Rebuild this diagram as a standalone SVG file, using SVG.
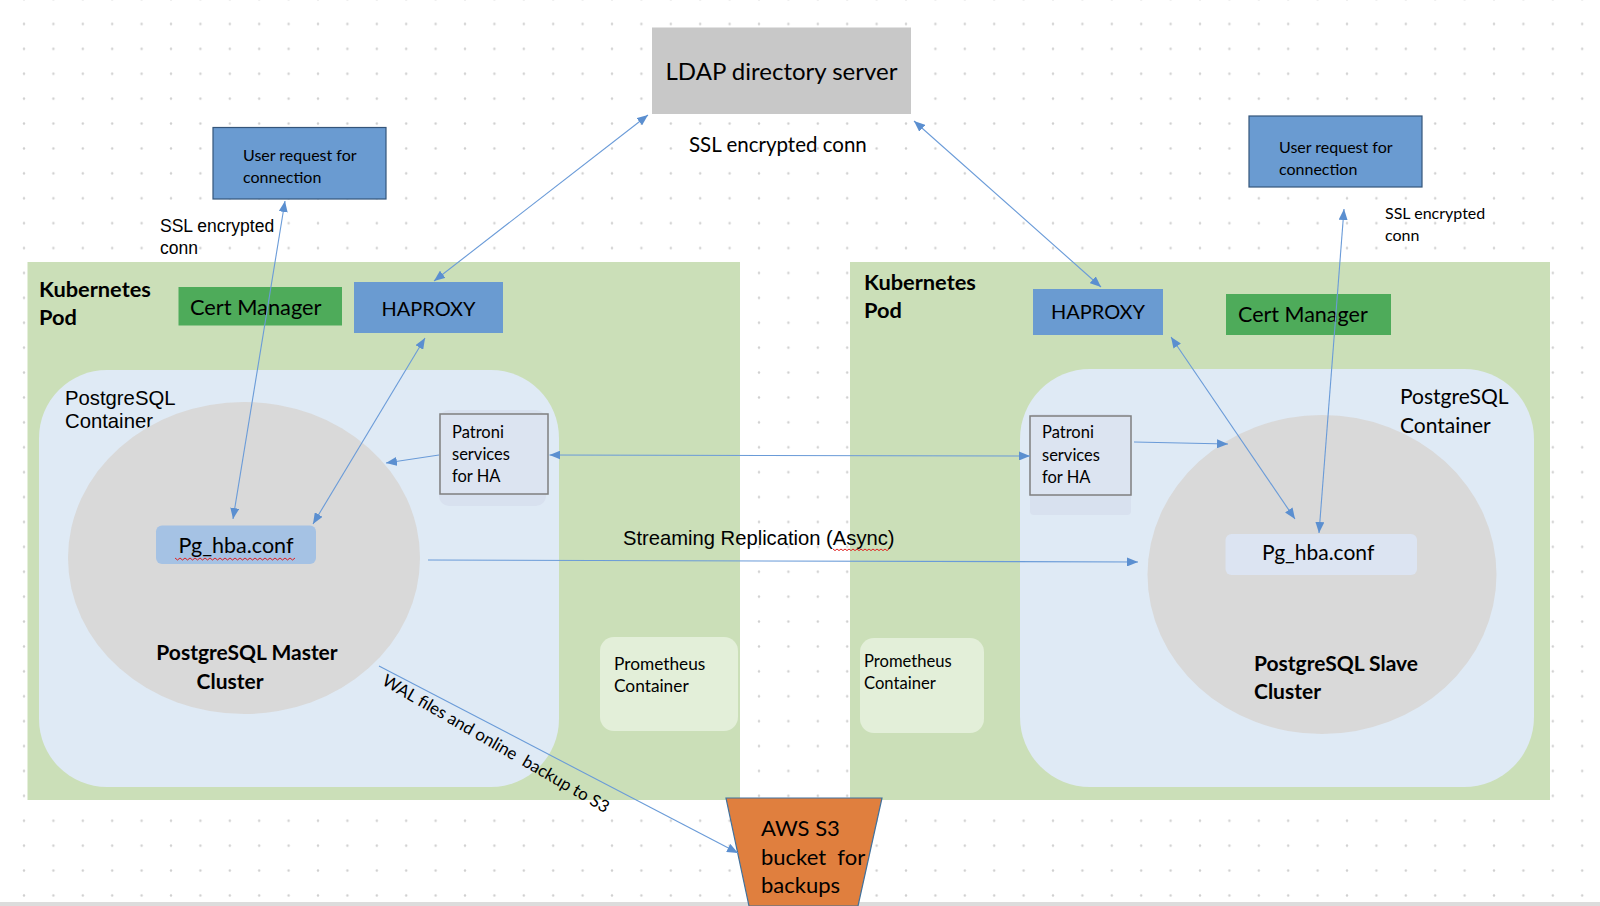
<svg xmlns="http://www.w3.org/2000/svg" width="1600" height="906" viewBox="0 0 1600 906">
<defs>
<pattern id="dots" patternUnits="userSpaceOnUse" x="9.3" y="11.5" width="29.4" height="24.9">
<circle cx="14.7" cy="12.45" r="1.2" fill="#cfcfcf"/>
</pattern>
<marker id="arr" viewBox="0 0 10 10" refX="10" refY="5" markerWidth="11" markerHeight="9" markerUnits="userSpaceOnUse" orient="auto-start-reverse" preserveAspectRatio="none">
<path d="M0,0 L10,5 L0,10 z" fill="#5b8fd0"/>
</marker>
</defs>
<style>
.cal{font-family:Lato,"Open Sans","Noto Sans",sans-serif;fill:#000}
.ari{font-family:"Liberation Sans",Arial,sans-serif;fill:#000}
.b{font-weight:bold}
.pod{fill:#cbdfb8}
.cont{fill:#dfeaf5}
.ell{fill:#d9d9d9}
.blue{fill:#6a9bd1}
.green{fill:#4eab5a}
.pat{fill:#dce4f1;stroke:#7f7f7f;stroke-width:1.5}
.patsh{fill:#d8e1ef}
.prom{fill:#e3efd9}
.ln{stroke:#6a9bd8;stroke-width:1.1;fill:none}
.sq{stroke:#e02020;stroke-width:1;fill:none}
</style>
<rect x="0" y="0" width="1600" height="906" fill="#ffffff"/>
<rect x="0" y="0" width="1600" height="902" fill="url(#dots)"/>
<rect x="0" y="902" width="1600" height="4" fill="#dcdcdc"/>

<g id="ldap">
<rect x="652" y="27.5" width="259" height="86.5" fill="#c8c8c8"/>
<text class="cal" x="781.5" y="80" font-size="24" text-anchor="middle">LDAP directory server</text>
</g>
<g id="ldap-label">
<text class="cal" x="689" y="152" font-size="20.5">SSL encrypted conn</text>
</g>

<g id="user-left">
<rect x="213" y="127.5" width="173" height="71.5" class="blue" stroke="#34557a" stroke-width="1.2"/>
<text class="cal" x="243" y="161" font-size="16">User request for</text>
<text class="cal" x="243" y="183" font-size="16">connection</text>
</g>
<g id="ssl-left">
<text class="ari" x="160" y="232" font-size="17.5">SSL encrypted</text>
<text class="ari" x="160" y="254" font-size="17.5">conn</text>
</g>

<g id="user-right">
<rect x="1249" y="116" width="173" height="71" class="blue" stroke="#34557a" stroke-width="1.2"/>
<text class="cal" x="1279" y="153" font-size="16">User request for</text>
<text class="cal" x="1279" y="175" font-size="16">connection</text>
</g>
<g id="ssl-right">
<text class="cal" x="1385" y="219" font-size="16">SSL encrypted</text>
<text class="cal" x="1385" y="241" font-size="16">conn</text>
</g>

<g id="pod-left">
<rect x="27.5" y="262" width="712.5" height="538" class="pod"/>
<text class="cal b" x="39" y="297" font-size="21.8">Kubernetes</text>
<text class="cal b" x="39" y="325" font-size="21.8">Pod</text>
</g>
<g id="pod-right">
<rect x="850" y="262" width="700" height="538" class="pod"/>
<text class="cal b" x="864" y="290" font-size="21.8">Kubernetes</text>
<text class="cal b" x="864" y="318" font-size="21.8">Pod</text>
</g>

<g id="s3">
<path d="M726,798 L882,798 L858,906 L749,906 z" fill="#e07f3e" stroke="#41719c" stroke-width="1.2"/>
<text class="cal" x="761" y="836" font-size="22">AWS S3</text>
<text class="cal" x="761" y="865" font-size="22" xml:space="preserve">bucket  for</text>
<text class="cal" x="761" y="893" font-size="22">backups</text>
</g>

<g id="cert-left">
<rect x="178.5" y="287" width="163.5" height="38.5" class="green"/>
<text class="cal" x="190" y="315" font-size="21.8">Cert Manager</text>
</g>
<g id="haproxy-left">
<rect x="354" y="282" width="149" height="51" class="blue"/>
<text class="cal" x="428.5" y="316" font-size="20" text-anchor="middle">HAPROXY</text>
</g>

<g id="container-left">
<rect x="39" y="370" width="520" height="417" rx="68" ry="68" class="cont"/>
<text class="ari" x="65" y="405" font-size="20.3">PostgreSQL</text>
<text class="ari" x="65" y="428" font-size="20.3">Container</text>
</g>
<g id="master">
<ellipse cx="244" cy="558" rx="176" ry="156" class="ell"/>
<text class="cal b" x="247" y="660" font-size="21" text-anchor="middle">PostgreSQL Master</text>
<text class="cal b" x="230" y="689" font-size="21" text-anchor="middle">Cluster</text>
</g>
<g id="pghba-left">
<rect x="156" y="525.5" width="160" height="38.5" rx="6" fill="#a5c2e4"/>
<text class="cal" x="236" y="553" font-size="21.5" text-anchor="middle">Pg_hba.conf</text>
<path class="sq" d="M175,558 l2.5,2 l2.5,-2 l2.5,2 l2.5,-2 l2.5,2 l2.5,-2 l2.5,2 l2.5,-2 l2.5,2 l2.5,-2 l2.5,2 l2.5,-2 l2.5,2 l2.5,-2 l2.5,2 l2.5,-2 l2.5,2 l2.5,-2 l2.5,2 l2.5,-2 l2.5,2 l2.5,-2 l2.5,2 l2.5,-2 l2.5,2 l2.5,-2 l2.5,2 l2.5,-2 l2.5,2 l2.5,-2 l2.5,2 l2.5,-2 l2.5,2 l2.5,-2 l2.5,2 l2.5,-2 l2.5,2 l2.5,-2 l2.5,2 l2.5,-2 l2.5,2 l2.5,-2 l2.5,2 l2.5,-2 l2.5,2 l2.5,-2 l2.5,2 l2.5,-2"/>
</g>
<g id="patroni-left">
<rect x="439" y="410" width="107" height="96" rx="10" class="patsh"/>
<rect x="440" y="414" width="108" height="80" class="pat"/>
<text class="cal" x="452" y="438" font-size="16.5">Patroni</text>
<text class="cal" x="452" y="460" font-size="16.5">services</text>
<text class="cal" x="452" y="482" font-size="16.5">for HA</text>
</g>
<g id="prometheus-left">
<rect x="600" y="637" width="138" height="94" rx="14" class="prom"/>
<text class="cal" x="614" y="670" font-size="17.3">Prometheus</text>
<text class="cal" x="614" y="692" font-size="17.3">Container</text>
</g>

<g id="haproxy-right">
<rect x="1033" y="289" width="130" height="46" class="blue"/>
<text class="cal" x="1098" y="319" font-size="20" text-anchor="middle">HAPROXY</text>
</g>
<g id="cert-right">
<rect x="1226" y="294" width="165" height="41" class="green"/>
<text class="cal" x="1238" y="322" font-size="21.5">Cert Manager</text>
</g>
<g id="container-right">
<rect x="1020" y="369" width="514" height="418" rx="70" ry="70" class="cont"/>
<text class="cal" x="1400" y="404" font-size="21">PostgreSQL</text>
<text class="cal" x="1400" y="433" font-size="21">Container</text>
</g>
<g id="slave">
<ellipse cx="1322" cy="574.5" rx="174.5" ry="159.5" class="ell"/>
<text class="cal b" x="1254" y="671" font-size="21">PostgreSQL Slave</text>
<text class="cal b" x="1254" y="699" font-size="21">Cluster</text>
</g>
<g id="pghba-right">
<rect x="1225.5" y="534" width="191.5" height="41" rx="6" fill="#dce4f2"/>
<text class="cal" x="1262" y="560" font-size="21">Pg_hba.conf</text>
</g>
<g id="patroni-right">
<rect x="1030" y="414" width="101" height="101" rx="4" class="patsh"/>
<rect x="1030" y="416" width="101" height="79" class="pat"/>
<text class="cal" x="1042" y="438" font-size="16.5">Patroni</text>
<text class="cal" x="1042" y="461" font-size="16.5">services</text>
<text class="cal" x="1042" y="483" font-size="16.5">for HA</text>
</g>
<g id="prometheus-right">
<rect x="860" y="638" width="124" height="95" rx="14" class="prom"/>
<text class="cal" x="864" y="667" font-size="16.6">Prometheus</text>
<text class="cal" x="864" y="689" font-size="16.6">Container</text>
</g>

<g id="connectors">
<line class="ln" x1="285" y1="201" x2="233" y2="519" marker-start="url(#arr)" marker-end="url(#arr)"/>
<line class="ln" x1="434" y1="281" x2="648" y2="115" marker-start="url(#arr)" marker-end="url(#arr)"/>
<line class="ln" x1="425" y1="338" x2="313" y2="524" marker-start="url(#arr)" marker-end="url(#arr)"/>
<line class="ln" x1="439" y1="455" x2="386" y2="463" marker-end="url(#arr)"/>
<line class="ln" x1="549.5" y1="455" x2="1030" y2="456" marker-start="url(#arr)" marker-end="url(#arr)"/>
<line class="ln" x1="428" y1="560" x2="1138" y2="562" marker-end="url(#arr)"/>
<line class="ln" x1="379" y1="666" x2="738" y2="853" marker-end="url(#arr)"/>
<line class="ln" x1="1134" y1="442" x2="1228" y2="444" marker-end="url(#arr)"/>
<line class="ln" x1="914" y1="121" x2="1101" y2="287" marker-start="url(#arr)" marker-end="url(#arr)"/>
<line class="ln" x1="1171" y1="337" x2="1295" y2="519" marker-start="url(#arr)" marker-end="url(#arr)"/>
<line class="ln" x1="1344" y1="209" x2="1319" y2="533" marker-start="url(#arr)" marker-end="url(#arr)"/>
</g>
<g id="connector-labels">
<text class="ari" x="623" y="545" font-size="20.2">Streaming Replication (Async)</text>
<path class="sq" d="M833,549 l2,1.6 l2,-1.6 l2,1.6 l2,-1.6 l2,1.6 l2,-1.6 l2,1.6 l2,-1.6 l2,1.6 l2,-1.6 l2,1.6 l2,-1.6 l2,1.6 l2,-1.6 l2,1.6 l2,-1.6 l2,1.6 l2,-1.6 l2,1.6 l2,-1.6 l2,1.6 l2,-1.6 l2,1.6 l2,-1.6 l2,1.6 l2,-1.6 l2,1.6 l2,-1.6"/>
<text class="cal" x="0" y="0" font-size="17" transform="translate(381,684) rotate(30)" xml:space="preserve">WAL files and online  backup to S3</text>
</g>
</svg>
